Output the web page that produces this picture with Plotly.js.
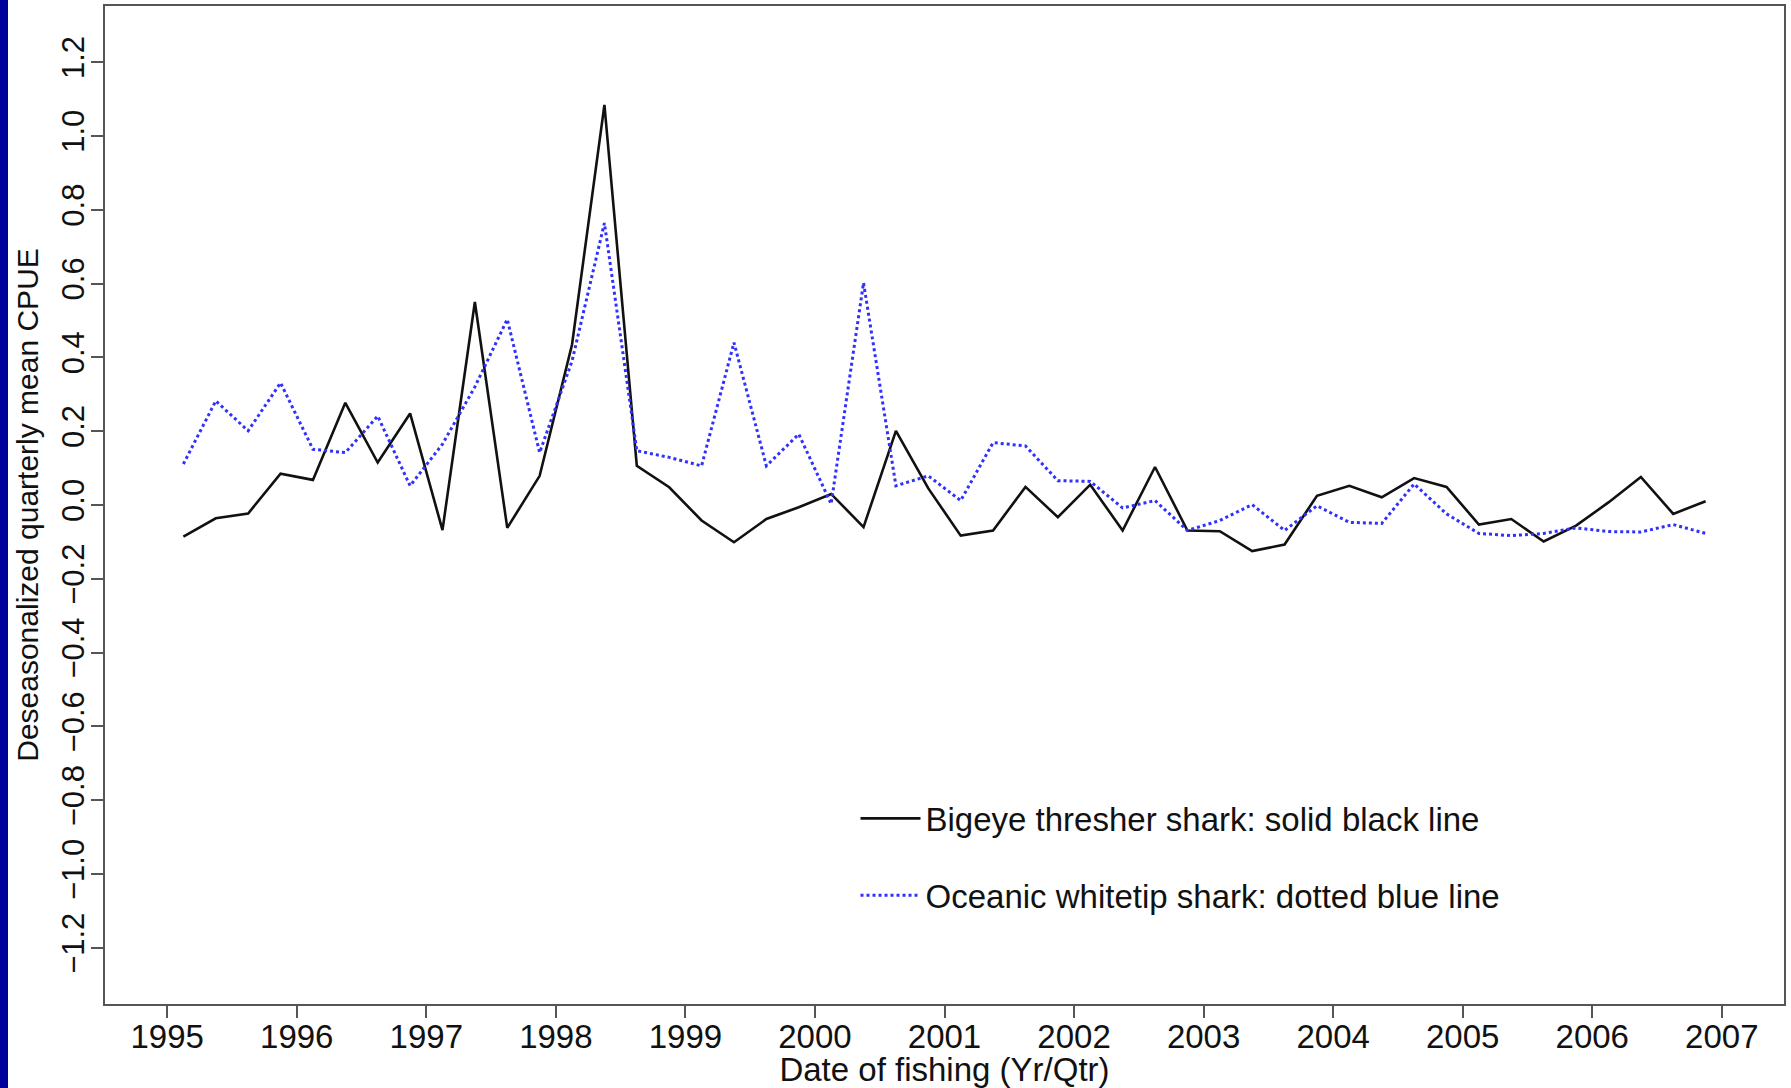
<!DOCTYPE html>
<html>
<head>
<meta charset="utf-8">
<script src="https://cdn.plot.ly/plotly-3.0.1.min.js"></script>
<style>
  html, body { margin: 0; padding: 0; background: #ffffff; }
  #wrap { position: relative; width: 1791px; height: 1088px; }
  #bar { position: absolute; left: 0; top: 0; width: 8px; height: 1088px; background: #00009c; z-index: 5; }
  #chart { position: absolute; left: 0; top: 0; width: 1791px; height: 1088px; }
</style>
</head>
<body>
<div id="wrap"><div id="bar"></div><div id="chart"></div></div>
<script>
// Quarter mid-points (Yr/Qtr)
const quarters = [
  1995.125, 1995.375, 1995.625, 1995.875,
  1996.125, 1996.375, 1996.625, 1996.875,
  1997.125, 1997.375, 1997.625, 1997.875,
  1998.125, 1998.375, 1998.625, 1998.875,
  1999.125, 1999.375, 1999.625, 1999.875,
  2000.125, 2000.375, 2000.625, 2000.875,
  2001.125, 2001.375, 2001.625, 2001.875,
  2002.125, 2002.375, 2002.625, 2002.875,
  2003.125, 2003.375, 2003.625, 2003.875,
  2004.125, 2004.375, 2004.625, 2004.875,
  2005.125, 2005.375, 2005.625, 2005.875,
  2006.125, 2006.375, 2006.625, 2006.875
];

// Bigeye thresher shark (solid black line)
const bigeyeThresher = [
  -0.086, -0.036, -0.023, 0.085,
   0.068,  0.277,  0.115, 0.248,
  -0.068,  0.550, -0.062, 0.079,
   0.435,  1.084,  0.106, 0.048,
  -0.042, -0.101, -0.038, -0.006,
   0.030, -0.060,  0.201, 0.045,
  -0.083, -0.069,  0.049, -0.033,
   0.055, -0.069,  0.103, -0.069,
  -0.071, -0.125, -0.107, 0.025,
   0.052,  0.021,  0.073, 0.049,
  -0.053, -0.038, -0.099, -0.056,
   0.007,  0.076, -0.024, 0.010
];

// Oceanic whitetip shark (dotted blue line)
const oceanicWhitetip = [
   0.111,  0.282,  0.201, 0.331,
   0.151,  0.142,  0.241, 0.052,
   0.165,  0.320,  0.503, 0.142,
   0.390,  0.764,  0.147, 0.129,
   0.106,  0.440,  0.106, 0.192,
   0.003,  0.602,  0.052, 0.079,
   0.012,  0.169,  0.160, 0.066,
   0.064, -0.008,  0.012, -0.069,
  -0.042,  0.001, -0.069, -0.002,
  -0.047, -0.050,  0.057, -0.024,
  -0.077, -0.083, -0.077, -0.062,
  -0.072, -0.073, -0.053, -0.077
];

const seriesNames = [
  "Bigeye thresher shark: solid black line",
  "Oceanic whitetip shark: dotted blue line"
];

const xTickVals = [1995, 1996, 1997, 1998, 1999, 2000, 2001, 2002, 2003, 2004, 2005, 2006, 2007];
const yTickVals = [-1.2, -1.0, -0.8, -0.6, -0.4, -0.2, 0.0, 0.2, 0.4, 0.6, 0.8, 1.0, 1.2];

const FONT = "Liberation Sans, Arial, Helvetica, sans-serif";

const traces = [
  {
    x: quarters, y: bigeyeThresher, name: seriesNames[0],
    type: "scatter", mode: "lines", legendgroup: "a",
    line: { color: "#111111", width: 2.6 }
  },
  {
    x: quarters, y: oceanicWhitetip, name: seriesNames[1],
    type: "scatter", mode: "lines", legendgroup: "b",
    line: { color: "#3030ff", width: 3, dash: "dot" }
  }
];

const axisCommon = {
  showgrid: false, zeroline: false,
  showline: true, linecolor: "#555555", linewidth: 2, mirror: true,
  ticks: "outside", ticklen: 12, tickwidth: 2, tickcolor: "#555555"
};

const layout = {
  width: 1791, height: 1088,
  margin: { l: 105, r: 7, t: 6, b: 84 },
  paper_bgcolor: "#ffffff", plot_bgcolor: "#ffffff",
  font: { family: FONT, color: "#111111" },
  showlegend: true,
  legend: {
    x: 0.447, y: 0.214, xanchor: "left", yanchor: "top",
    bgcolor: "rgba(0,0,0,0)", borderwidth: 0,
    font: { family: FONT, size: 33, color: "#111111" },
    traceorder: "grouped", tracegroupgap: 31, itemwidth: 60
  },
  xaxis: Object.assign({}, axisCommon, {
    range: [1994.52, 2007.48],
    tickmode: "array", tickvals: xTickVals,
    ticktext: xTickVals.map(String),
    tickfont: { family: FONT, size: 33, color: "#111111" },
    ticklabelstandoff: -10,
    title: { text: "Date of fishing (Yr/Qtr)", font: { family: FONT, size: 33, color: "#111111" }, standoff: 12 }
  }),
  yaxis: Object.assign({}, axisCommon, {
    range: [-1.352, 1.352],
    tickmode: "array", tickvals: yTickVals,
    tickformat: ".1f", tickangle: -90,
    tickfont: { family: FONT, size: 31, color: "#111111" },
    ticklabelstandoff: -5,
    title: { text: "Deseasonalized quarterly mean CPUE", font: { family: FONT, size: 30, color: "#111111" }, standoff: 8 }
  })
};

Plotly.newPlot("chart", traces, layout, { staticPlot: true, displayModeBar: false });
</script>
</body>
</html>
